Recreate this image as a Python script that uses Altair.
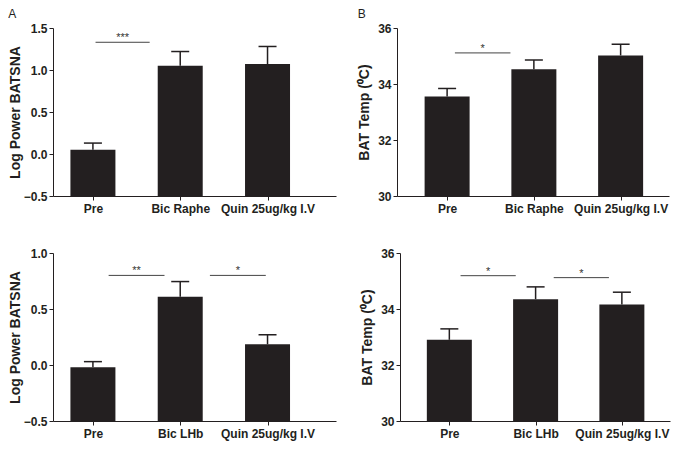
import json
import altair as alt
import pandas as pd

cats_top = ["Pre", "Bic Raphe", "Quin 25ug/kg I.V"]
cats_bottom = ["Pre", "Bic LHb", "Quin 25ug/kg I.V"]

# Panel A: Log Power BATSNA (Bic Raphe)
a_mean = [0.05, 1.05, 1.07]
a_sem = [0.08, 0.17, 0.21]
# Panel B: BAT Temp (Bic Raphe)
b_mean = [33.55, 34.53, 35.02]
b_sem = [0.29, 0.33, 0.40]
# Panel C: Log Power BATSNA (Bic LHb)
c_mean = [-0.02, 0.61, 0.185]
c_sem = [0.05, 0.135, 0.085]
# Panel D: BAT Temp (Bic LHb)
d_mean = [32.90, 34.35, 34.16]
d_sem = [0.39, 0.44, 0.44]

# significance brackets (start / end in category-index units, height, label)
a_sig_start = [0.03]
a_sig_end = [0.65]
a_sig_y = [1.33]
a_sig_label = ["***"]

b_sig_start = [0.09]
b_sig_end = [0.73]
b_sig_y = [35.11]
b_sig_label = ["*"]

c_sig_start = [0.18, 1.34]
c_sig_end = [0.82, 1.98]
c_sig_y = [0.80, 0.80]
c_sig_label = ["**", "*"]

d_sig_start = [0.13, 1.21]
d_sig_end = [0.77, 1.85]
d_sig_y = [35.19, 35.12]
d_sig_label = ["*", "*"]

BAR = "#231f20"
INK = "#231f20"
FONT = "Liberation Sans"
H = 168


def panel(cats, mean, sem, s_start, s_end, s_y, s_lab, ydom, yticks, yfmt,
          xdom, width, ytitle, label=None, title_pad=2):
    df = pd.DataFrame({"i": list(range(len(cats))), "mean": mean, "sem": sem})
    df["upper"] = df["mean"] + df["sem"]
    df["base"] = ydom[0]
    sig = pd.DataFrame({"s": s_start, "e": s_end, "y": s_y, "lab": s_lab})
    sig["mid"] = (sig["s"] + sig["e"]) / 2

    xscale = alt.Scale(domain=xdom, nice=False, zero=False)
    yscale = alt.Scale(domain=ydom, nice=False, zero=False)
    xaxis = alt.Axis(values=list(range(len(cats))),
                     labelExpr=json.dumps(cats) + "[datum.value]",
                     title=None, grid=False, tickSize=4, labelPadding=3,
                     labelFontSize=12, labelFontWeight="bold", labelFont=FONT,
                     labelColor=INK, domainColor=INK, tickColor=INK,
                     labelOverlap=False, labelFlush=False)
    yaxis = alt.Axis(values=yticks, format=yfmt, title=ytitle, grid=False,
                     tickSize=4, labelPadding=2, labelFontSize=12,
                     labelFontWeight="bold", labelFont=FONT, labelColor=INK,
                     titleFontSize=14, titleFontWeight="bold", titleFont=FONT,
                     titleColor=INK, titlePadding=title_pad,
                     domainColor=INK, tickColor=INK, labelFlush=False)

    X = lambda f: alt.X(f, scale=xscale, axis=xaxis)
    Y = lambda f: alt.Y(f, scale=yscale, axis=yaxis)

    base = alt.Chart(df)
    bars = base.mark_bar(size=45, color=BAR).encode(x=X("i:Q"), y=Y("mean:Q"), y2="base:Q")
    err = base.mark_rule(color=BAR, strokeWidth=1.5).encode(x=X("i:Q"), y=Y("mean:Q"), y2="upper:Q")
    cap = base.mark_tick(orient="horizontal", size=18, thickness=1.5, color=BAR,
                         opacity=1).encode(x=X("i:Q"), y=Y("upper:Q"))
    sc = alt.Chart(sig)
    rule = sc.mark_rule(color="#444444", strokeWidth=1).encode(x=X("s:Q"), x2="e:Q", y=Y("y:Q"))
    txt = sc.mark_text(baseline="alphabetic", dy=-1, fontSize=11, font=FONT,
                       color="#333333").encode(x=X("mid:Q"), y=Y("y:Q"), text="lab:N")
    ch = alt.layer(bars, err, cap, rule, txt).properties(width=width, height=H)
    if label:
        ch = ch.properties(title=alt.TitleParams(text=label, anchor="start",
                                                 fontSize=12, fontWeight="normal",
                                                 font=FONT, color=INK, offset=1))
    return ch


A = panel(cats_top, a_mean, a_sem, a_sig_start, a_sig_end, a_sig_y, a_sig_label,
          [-0.5, 1.5], [-0.5, 0.0, 0.5, 1.0, 1.5], ".1f", [-0.40, 2.727], 283,
          "Log Power BATSNA", label="A", title_pad=1)
B = panel(cats_top, b_mean, b_sem, b_sig_start, b_sig_end, b_sig_y, b_sig_label,
          [30, 36], [30, 32, 34, 36], "d", [-0.52, 2.5], 272,
          "BAT Temp (\u2070C)", label="B", title_pad=6)
C = panel(cats_bottom, c_mean, c_sem, c_sig_start, c_sig_end, c_sig_y, c_sig_label,
          [-0.5, 1.0], [-0.5, 0.0, 0.5, 1.0], ".1f", [-0.40, 2.727], 283,
          "Log Power BATSNA", title_pad=1)
D = panel(cats_bottom, d_mean, d_sem, d_sig_start, d_sig_end, d_sig_y, d_sig_label,
          [30, 36], [30, 32, 34, 36], "d", [-0.514, 2.50], 270,
          "BAT Temp (\u2070C)", title_pad=6)

chart = alt.vconcat(
    alt.hconcat(A, B, spacing=21),
    alt.hconcat(C, D, spacing=24),
    spacing=33,
).properties(
    padding={"left": 0, "top": 0, "right": 2, "bottom": 8}
).configure_view(stroke=None)

chart.save("out.html", embed_options={"renderer": "svg", "actions": False})
